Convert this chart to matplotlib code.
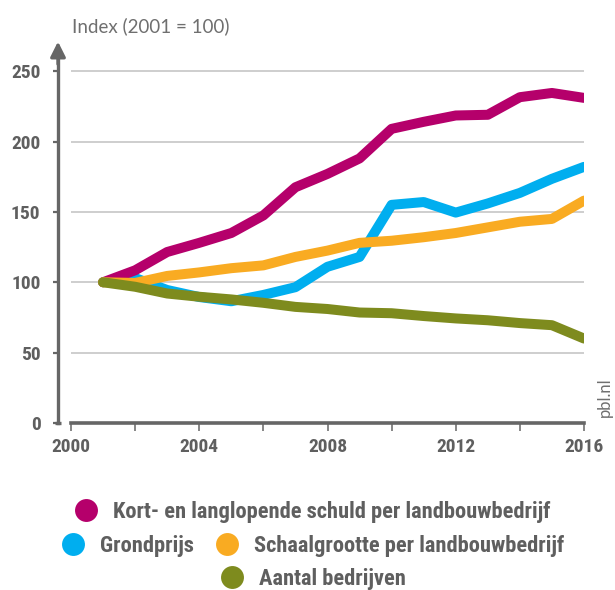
import matplotlib
matplotlib.use("Agg")
import matplotlib.pyplot as plt
import matplotlib.font_manager as fm
import matplotlib.transforms as mtransforms
from matplotlib.lines import Line2D

# ---------------- data ----------------
years = list(range(2001, 2017))
schuld = [100, 108.5, 121.5, 128, 135, 147.5, 167.5, 177, 188, 209, 214, 218.5, 219, 231.5, 234.5, 231]
grondprijs = [100, 103, 94.5, 89.5, 86.5, 91, 96.5, 111, 118, 155, 157, 149.5, 156, 163.5, 173.5, 182]
schaal = [100, 99.5, 104.5, 107, 110, 112, 118, 122.5, 128, 129.5, 132, 135, 139, 143, 145, 158]
aantal = [100, 96.8, 92, 89.7, 87.8, 85.4, 82.5, 81, 78.5, 78, 76, 74.3, 73, 71, 69.5, 60]

labels = ["Kort- en langlopende schuld per landbouwbedrijf", "Grondprijs",
          "Schaalgrootte per landbouwbedrijf", "Aantal bedrijven"]
xticks = [2000, 2004, 2008, 2012, 2016]
yticks = [0, 50, 100, 150, 200, 250]
ylabel_text = "Index (2001 = 100)"
source_text = "pbl.nl"

c_schuld = "#B5006B"
c_grond = "#00AEEF"
c_schaal = "#F9AB22"
c_aantal = "#7E8B1E"
gray = "#5f5f5f"
axis_gray = "#666666"
grid_gray = "#c6c6c6"

# ---------------- fonts ----------------
def find_font(patterns):
    for pat in patterns:
        for f in fm.fontManager.ttflist:
            name = f.fname.split("/")[-1].lower()
            if name == pat.lower():
                return f.fname
    return None

bold_path = find_font(["RobotoCondensed-Bold.ttf", "Roboto-Condensed-Bold.ttf",
                       "LiberationSansNarrow-Bold.ttf", "DejaVuSansCondensed-Bold.ttf",
                       "OpenSans_Condensed-Bold.ttf", "OpenSansCondensed-Bold.ttf"])

def bold_fp(size):
    if bold_path:
        return fm.FontProperties(fname=bold_path, size=size)
    return fm.FontProperties(family="DejaVu Sans", weight="bold", size=size * 0.8)

# ---------------- figure ----------------
W, H = 615, 590
fig = plt.figure(figsize=(W / 100, H / 100), dpi=100)
ax = fig.add_axes([71 / W, 1 - 423 / H, (584 - 71) / W, (423 - 43) / H])
ax.set_xlim(2000, 2016)
ax.set_ylim(0, 270)

lw = 7.2
ax.plot(years, grondprijs, color=c_grond, lw=lw, solid_capstyle="round", solid_joinstyle="round", zorder=3)
ax.plot(years, schuld, color=c_schuld, lw=lw, solid_capstyle="round", solid_joinstyle="round", zorder=4)
ax.plot(years, schaal, color=c_schaal, lw=lw, solid_capstyle="round", solid_joinstyle="round", zorder=5)
ax.plot(years, aantal, color=c_aantal, lw=lw, solid_capstyle="round", solid_joinstyle="round", zorder=6)

# grid
ax.set_yticks(yticks)
for v in yticks[1:]:
    ax.axhline(v, color=grid_gray, lw=1.2, zorder=1)

# spines
for s in ["top", "right"]:
    ax.spines[s].set_visible(False)
ax.spines["bottom"].set_color(axis_gray)
ax.spines["bottom"].set_linewidth(2.6)
ax.spines["bottom"].set_zorder(7)
ax.spines["left"].set_position(("outward", 13 * 0.72))
ax.spines["left"].set_color(axis_gray)
ax.spines["left"].set_linewidth(2.4)
ax.spines["left"].set_bounds(0, 262)

# arrow head on y axis
trans = ax.get_yaxis_transform() + mtransforms.ScaledTranslation(-13 / 100, 0, fig.dpi_scale_trans)
ax.annotate("", xy=(0, 271), xytext=(0, 255), xycoords=trans, textcoords=trans,
            arrowprops=dict(arrowstyle="-|>,head_length=0.9,head_width=0.45", lw=2.4,
                            color=axis_gray, shrinkA=0, shrinkB=0),
            annotation_clip=False)
# extended foot at 0
ax.add_line(Line2D([-0.006, 0.006], [0, 0], transform=trans, color=axis_gray, lw=2.4,
                   clip_on=False, solid_capstyle="butt"))

# ticks
ax.set_xticks(xticks)
ax.set_xticks([2002, 2006, 2010, 2014], minor=True)
ax.tick_params(axis="x", which="both", direction="out", length=6, width=1.1, color=axis_gray, pad=5)
ax.tick_params(axis="y", direction="out", length=3.6, width=1.6, color=axis_gray, pad=9)
ax.set_xticklabels([str(x) for x in xticks])
ax.set_yticklabels([str(y) for y in yticks])
for lbl in ax.get_xticklabels() + ax.get_yticklabels():
    lbl.set_fontproperties(bold_fp(14))
    lbl.set_color(gray)

# titles / source
fig.text(72 / W, 1 - 32 / H, ylabel_text, ha="left", va="baseline", fontsize=13.5,
         family="Lato", fontweight="normal", color="#6f6f6f")
fig.text(605 / W, 1 - 397 / H, source_text, ha="center", va="center", rotation=90,
         fontsize=12, family="Lato", color="#6f6f6f")

# legend (three centred rows)
def handle(c):
    return Line2D([], [], marker="o", ls="", ms=16.5, color=c, markeredgewidth=0)

rows = [
    ([handle(c_schuld)], [labels[0]], 1 - 512 / H),
    ([handle(c_grond), handle(c_schaal)], [labels[1], labels[2]], 1 - 546 / H),
    ([handle(c_aantal)], [labels[3]], 1 - 579 / H),
]
for hs, ls, yy in rows:
    fig.legend(handles=hs, labels=ls, loc="center", bbox_to_anchor=(0.509, yy),
               ncol=len(hs), frameon=False, prop=bold_fp(16.2), labelcolor=gray,
               handlelength=1.0, handletextpad=0.7, columnspacing=1.0,
               borderpad=0, borderaxespad=0)

fig.savefig("out.png", dpi=100)
